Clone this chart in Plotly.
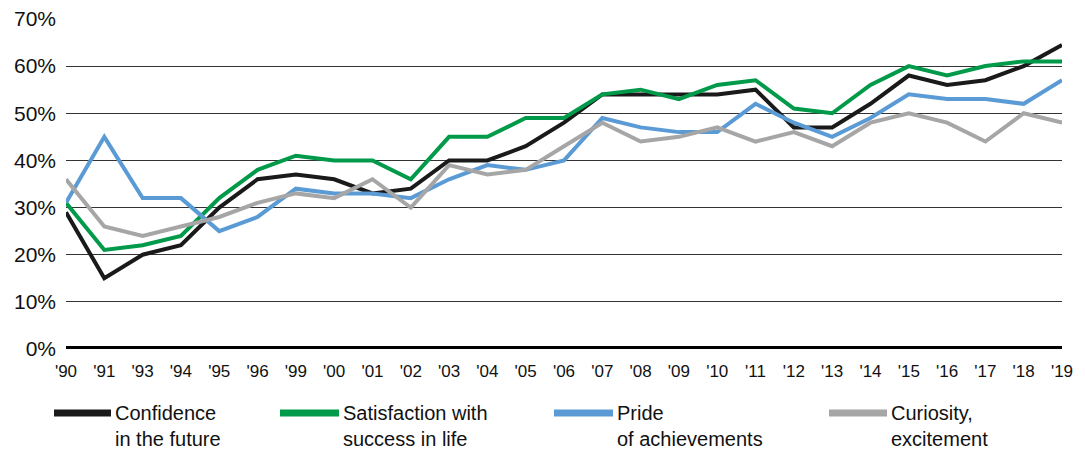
import plotly.graph_objects as go

years = ["'90", "'91", "'93", "'94", "'95", "'96", "'99", "'00", "'01", "'02", "'03", "'04", "'05", "'06",
         "'07", "'08", "'09", "'10", "'11", "'12", "'13", "'14", "'15", "'16", "'17", "'18", "'19"]

confidence = [29, 15, 20, 22, 30, 36, 37, 36, 33, 34, 40, 40, 43, 48, 54, 54, 54, 54, 55, 47, 47, 52, 58, 56, 57, 60, 64.5]
satisfaction = [31, 21, 22, 24, 32, 38, 41, 40, 40, 36, 45, 45, 49, 49, 54, 55, 53, 56, 57, 51, 50, 56, 60, 58, 60, 61, 61]
pride = [31, 45, 32, 32, 25, 28, 34, 33, 33, 32, 36, 39, 38, 40, 49, 47, 46, 46, 52, 48, 45, 49, 54, 53, 53, 52, 57]
curiosity = [36, 26, 24, 26, 28, 31, 33, 32, 36, 30, 39, 37, 38, 43, 48, 44, 45, 47, 44, 46, 43, 48, 50, 48, 44, 50, 48]

names = ["Confidence<br>in the future", "Satisfaction with<br>success in life",
         "Pride<br>of achievements", "Curiosity,<br>excitement"]
colors = ["#1a1a1a", "#009a4a", "#5b9bd5", "#a6a6a6"]
series = [confidence, satisfaction, pride, curiosity]

# page has an 8px body margin; figure sized/offset to compensate
OFF = 8
W, H = 1085 - OFF, 450 - OFF
L, R, T, B = 66 - OFF, 23, 18 - OFF, 101
pw, ph = W - L - R, H - T - B

xs = list(range(len(years)))
fig = go.Figure()
for vals, name, col in zip(series, names, colors):
    fig.add_trace(go.Scatter(x=xs, y=vals, mode="lines", name=name,
                             line=dict(color=col, width=4), showlegend=False))

def px_x(p):  # page pixel -> paper
    return (p - OFF - L) / pw

def px_y(p):
    return (H - B - (p - OFF)) / ph

# manual legend
swatch_x = [54, 280, 554, 829]
text_x = [113, 341, 615, 889]
shapes = []
annotations = []
for sx, tx, name, col in zip(swatch_x, text_x, names, colors):
    shapes.append(dict(type="line", xref="paper", yref="paper",
                       x0=px_x(sx), x1=px_x(tx - 2), y0=px_y(413), y1=px_y(413),
                       line=dict(color=col, width=7)))
    annotations.append(dict(xref="paper", yref="paper", x=px_x(tx), y=px_y(400),
                            xanchor="left", yanchor="top", align="left", showarrow=False,
                            text=name, font=dict(size=20, color="#111111",
                                                 family="Liberation Sans, Arial, sans-serif")))

# thick zero line
shapes.append(dict(type="line", xref="paper", yref="y", x0=0, x1=1, y0=0, y1=0,
                   line=dict(color="#000000", width=6), layer="above"))

fig.update_layout(
    width=W, height=H,
    margin=dict(l=L, r=R, t=T, b=B, autoexpand=False),
    plot_bgcolor="white", paper_bgcolor="white",
    font=dict(family="Liberation Sans, Arial, sans-serif", color="#111111"),
    shapes=shapes, annotations=annotations,
    xaxis=dict(range=[0, len(years) - 1], tickmode="array", tickvals=xs, ticktext=years,
               showgrid=False, zeroline=False, showline=False, ticks="", automargin=False,
               tickfont=dict(size=17), ticklabelstandoff=10, ticklabeloverflow="allow"),
    yaxis=dict(range=[0, 70.2], tickmode="array", tickvals=list(range(0, 71, 10)),
               ticktext=[f"{v}%" for v in range(0, 71, 10)], automargin=False,
               showgrid=True, gridcolor="#333333", gridwidth=1, zeroline=False,
               showline=False, ticks="", tickfont=dict(size=21), ticklabelstandoff=9,
               ticklabeloverflow="allow"),
)

fig.write_html("out.html")
